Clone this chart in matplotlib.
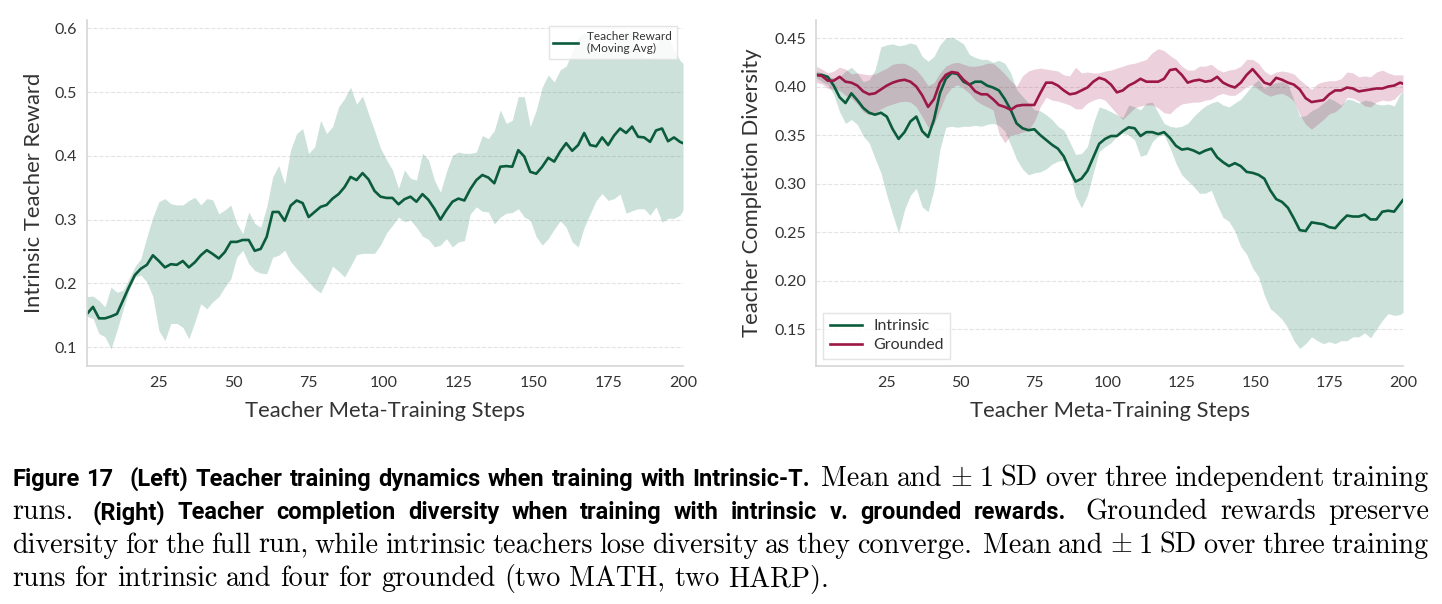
import numpy as np
import matplotlib
matplotlib.use("Agg")
import matplotlib.pyplot as plt

plt.rcParams['mathtext.fontset'] = 'cm'

# meta-training steps (odd steps plus the last one)
steps = np.r_[np.arange(1, 200, 2), 200]

# Left: intrinsic teacher reward (moving avg) and +/- 1 SD band
reward_mean = [0.152, 0.163, 0.145, 0.145, 0.148, 0.152, 0.173, 0.194, 0.213, 0.223,
               0.229, 0.244, 0.235, 0.225, 0.230, 0.229, 0.235, 0.225, 0.233, 0.244,
               0.252, 0.246, 0.239, 0.249, 0.265, 0.265, 0.268, 0.268, 0.251, 0.254,
               0.273, 0.312, 0.312, 0.298,
               0.322, 0.330, 0.326, 0.304, 0.312, 0.320, 0.323, 0.333, 0.340, 0.351,
               0.367, 0.362, 0.373, 0.363, 0.345, 0.336, 0.334, 0.334, 0.324, 0.332,
               0.336, 0.328, 0.340, 0.331, 0.317, 0.300, 0.315, 0.328, 0.333, 0.330,
               0.348, 0.362, 0.370,
               0.366, 0.357, 0.383, 0.384, 0.383, 0.409, 0.399, 0.375, 0.372, 0.383,
               0.397, 0.391, 0.407, 0.420, 0.408, 0.417, 0.436, 0.417, 0.415, 0.429,
               0.417, 0.432, 0.443, 0.436, 0.446, 0.430, 0.429, 0.422, 0.440, 0.443,
               0.423, 0.429, 0.422, 0.420]
reward_lo = [0.148, 0.145, 0.121, 0.116, 0.097, 0.126, 0.158, 0.189, 0.210, 0.213,
             0.202, 0.179, 0.126, 0.110, 0.137, 0.137, 0.131, 0.113, 0.139, 0.168,
             0.160, 0.171, 0.179, 0.194, 0.207, 0.241, 0.252, 0.231, 0.220, 0.216,
             0.215, 0.241, 0.244, 0.252,
             0.234, 0.223, 0.213, 0.202, 0.192, 0.185, 0.205, 0.227, 0.219, 0.210,
             0.227, 0.245, 0.247, 0.247, 0.247, 0.260, 0.279, 0.291, 0.304, 0.297,
             0.299, 0.288, 0.274, 0.269, 0.257, 0.260, 0.270, 0.257, 0.265, 0.267,
             0.309, 0.320, 0.313,
             0.312, 0.293, 0.304, 0.310, 0.311, 0.317, 0.304, 0.299, 0.273, 0.260,
             0.270, 0.285, 0.298, 0.288, 0.265, 0.257, 0.288, 0.309, 0.330, 0.341,
             0.330, 0.333, 0.340, 0.310, 0.314, 0.317, 0.317, 0.307, 0.320, 0.296,
             0.302, 0.302, 0.307, 0.315]
reward_hi = [0.179, 0.180, 0.173, 0.163, 0.194, 0.186, 0.189, 0.207, 0.226, 0.239,
             0.273, 0.304, 0.328, 0.333, 0.325, 0.323, 0.323, 0.330, 0.335, 0.323,
             0.333, 0.331, 0.309, 0.315, 0.323, 0.294, 0.278, 0.312, 0.294, 0.288,
             0.320, 0.367, 0.385, 0.356,
             0.410, 0.435, 0.443, 0.404, 0.414, 0.456, 0.435, 0.446, 0.477, 0.490,
             0.508, 0.481, 0.494, 0.466, 0.440, 0.412, 0.394, 0.378, 0.349, 0.378,
             0.365, 0.362, 0.404, 0.394, 0.362, 0.343, 0.375, 0.401, 0.406, 0.404,
             0.404, 0.406, 0.432,
             0.427, 0.440, 0.472, 0.451, 0.456, 0.493, 0.493, 0.446, 0.472, 0.508,
             0.527, 0.516, 0.535, 0.541, 0.563, 0.587, 0.592, 0.590, 0.566, 0.558,
             0.574, 0.569, 0.587, 0.597, 0.592, 0.574, 0.555, 0.555, 0.576, 0.592,
             0.587, 0.566, 0.550, 0.545]

# Right: completion diversity, intrinsic vs grounded
intr_mean = [0.412, 0.412, 0.410, 0.401, 0.389, 0.383, 0.393, 0.386, 0.378, 0.373,
             0.371, 0.373, 0.369, 0.356, 0.346, 0.353, 0.364, 0.369, 0.354, 0.348,
             0.366, 0.393, 0.408, 0.414, 0.413, 0.405, 0.402, 0.405, 0.405, 0.401,
             0.399, 0.396, 0.387, 0.376,
             0.362, 0.357, 0.355, 0.356, 0.350, 0.345, 0.340, 0.336, 0.328, 0.314,
             0.302, 0.305, 0.313, 0.327, 0.341, 0.346, 0.349, 0.349, 0.354, 0.358,
             0.357, 0.349, 0.353, 0.353, 0.351, 0.353, 0.347, 0.339, 0.335, 0.336,
             0.334, 0.331, 0.334,
             0.336, 0.327, 0.322, 0.318, 0.321, 0.318, 0.312, 0.311, 0.309, 0.305,
             0.293, 0.284, 0.281, 0.275, 0.264, 0.252, 0.251, 0.260, 0.259, 0.258,
             0.255, 0.254, 0.261, 0.267, 0.266, 0.266, 0.268, 0.263, 0.263, 0.271,
             0.272, 0.271, 0.279, 0.283]
intr_lo = [0.409, 0.405, 0.402, 0.392, 0.374, 0.362, 0.366, 0.361, 0.349, 0.342,
           0.326, 0.311, 0.288, 0.268, 0.249, 0.273, 0.288, 0.295, 0.276, 0.271,
           0.294, 0.335, 0.358, 0.359, 0.358, 0.359, 0.359, 0.360, 0.359, 0.361,
           0.362, 0.360, 0.354, 0.340,
           0.325, 0.315, 0.309, 0.311, 0.312, 0.315, 0.320, 0.323, 0.324, 0.313,
           0.287, 0.275, 0.288, 0.311, 0.333, 0.338, 0.342, 0.349, 0.352, 0.350,
           0.345, 0.328, 0.330, 0.343, 0.349, 0.350, 0.337, 0.321, 0.309, 0.303,
           0.297, 0.290, 0.290,
           0.293, 0.278, 0.265, 0.261, 0.251, 0.235, 0.227, 0.213, 0.204, 0.185,
           0.171, 0.166, 0.160, 0.151, 0.138, 0.130, 0.135, 0.142, 0.138, 0.135,
           0.137, 0.135, 0.138, 0.138, 0.142, 0.142, 0.146, 0.141, 0.150, 0.159,
           0.166, 0.164, 0.165, 0.167]
intr_hi = [0.416, 0.414, 0.410, 0.409, 0.410, 0.416, 0.420, 0.414, 0.405, 0.407,
           0.417, 0.441, 0.443, 0.444, 0.442, 0.443, 0.445, 0.443, 0.431, 0.426,
           0.431, 0.443, 0.450, 0.451, 0.448, 0.444, 0.433, 0.430, 0.428, 0.428,
           0.425, 0.427, 0.424, 0.414,
           0.397, 0.390, 0.383, 0.376, 0.375, 0.371, 0.366, 0.359, 0.355, 0.343,
           0.330, 0.331, 0.338, 0.362, 0.379, 0.377, 0.374, 0.371, 0.368, 0.381,
           0.379, 0.376, 0.383, 0.384, 0.373, 0.362, 0.359, 0.358, 0.359, 0.362,
           0.369, 0.375, 0.380,
           0.383, 0.385, 0.381, 0.379, 0.383, 0.387, 0.394, 0.402, 0.407, 0.398,
           0.402, 0.404, 0.405, 0.402, 0.386, 0.369, 0.370, 0.375, 0.378, 0.383,
           0.388, 0.385, 0.381, 0.387, 0.386, 0.383, 0.386, 0.385, 0.382, 0.381,
           0.382, 0.380, 0.392, 0.395]
grnd_mean = [0.412, 0.411, 0.406, 0.406, 0.410, 0.405, 0.404, 0.401, 0.395, 0.392,
             0.393, 0.397, 0.401, 0.404, 0.406, 0.407, 0.405, 0.400, 0.391, 0.379,
             0.387, 0.404, 0.412, 0.415, 0.414, 0.407, 0.402, 0.395, 0.392, 0.392,
             0.387, 0.381, 0.379, 0.376,
             0.380, 0.381, 0.381, 0.381, 0.393, 0.404, 0.404, 0.401, 0.396, 0.392,
             0.393, 0.396, 0.399, 0.405, 0.409, 0.407, 0.402, 0.394, 0.396, 0.401,
             0.404, 0.408, 0.405, 0.405, 0.405, 0.408, 0.417, 0.418, 0.412, 0.404,
             0.406, 0.407, 0.405,
             0.406, 0.410, 0.404, 0.401, 0.399, 0.404, 0.412, 0.418, 0.411, 0.404,
             0.402, 0.409, 0.407, 0.404, 0.402, 0.397, 0.388, 0.384, 0.385, 0.386,
             0.392, 0.396, 0.396, 0.399, 0.398, 0.395, 0.396, 0.397, 0.398, 0.398,
             0.400, 0.401, 0.404, 0.403]
grnd_lo = [0.404, 0.403, 0.398, 0.397, 0.396, 0.391, 0.388, 0.382, 0.374, 0.371,
           0.373, 0.377, 0.380, 0.382, 0.384, 0.385, 0.384, 0.379, 0.369, 0.358,
           0.361, 0.376, 0.391, 0.399, 0.402, 0.398, 0.393, 0.386, 0.382, 0.379,
           0.376, 0.352, 0.342, 0.350,
           0.351, 0.353, 0.355, 0.364, 0.379, 0.389, 0.386, 0.385, 0.383, 0.381,
           0.377, 0.377, 0.383, 0.386, 0.388, 0.386, 0.379, 0.372, 0.366, 0.372,
           0.378, 0.380, 0.381, 0.381, 0.378, 0.373, 0.372, 0.378, 0.382, 0.383,
           0.384, 0.384, 0.386,
           0.387, 0.391, 0.393, 0.391, 0.391, 0.395, 0.400, 0.402, 0.397, 0.393,
           0.390, 0.392, 0.393, 0.390, 0.385, 0.371, 0.361, 0.356, 0.361, 0.366,
           0.372, 0.374, 0.379, 0.389, 0.388, 0.385, 0.380, 0.379, 0.384, 0.386,
           0.385, 0.387, 0.393, 0.395]
grnd_hi = [0.421, 0.418, 0.414, 0.416, 0.420, 0.418, 0.413, 0.414, 0.413, 0.412,
           0.413, 0.416, 0.419, 0.423, 0.424, 0.424, 0.421, 0.417, 0.410, 0.401,
           0.404, 0.414, 0.421, 0.424, 0.425, 0.423, 0.421, 0.421, 0.422, 0.424,
           0.424, 0.419, 0.413, 0.406,
           0.400, 0.411, 0.416, 0.418, 0.419, 0.418, 0.417, 0.416, 0.412, 0.411,
           0.420, 0.414, 0.415, 0.414, 0.414, 0.416, 0.417, 0.419, 0.421, 0.423,
           0.424, 0.426, 0.428, 0.435, 0.439, 0.437, 0.432, 0.428, 0.421, 0.417,
           0.417, 0.421, 0.421,
           0.423, 0.418, 0.415, 0.417, 0.418, 0.421, 0.428, 0.428, 0.424, 0.416,
           0.412, 0.415, 0.416, 0.415, 0.413, 0.407, 0.402, 0.397, 0.403, 0.405,
           0.406, 0.406, 0.408, 0.415, 0.414, 0.410, 0.411, 0.410, 0.415, 0.417,
           0.414, 0.412, 0.412, 0.412]

x_ticks = [25, 50, 75, 100, 125, 150, 175, 200]
left_yticks = [0.1, 0.2, 0.3, 0.4, 0.5, 0.6]
right_yticks = [0.15, 0.20, 0.25, 0.30, 0.35, 0.40, 0.45]

GREEN = '#0b5c3c'
GREEN_FILL = '#1b7a5a'
RED = '#9c1746'
RED_FILL = '#a3174b'
TXT = '#333333'
AX_FONT = 'Lato'

W, H = 1442, 604


def style_axes(ax, ylim, yticks, fmt, ylabel, labelpad):
    ax.set_xlim(1, 200)
    ax.set_ylim(*ylim)
    ax.set_xticks(x_ticks)
    ax.set_yticks(yticks)
    ax.set_yticklabels([fmt.format(v) for v in yticks])
    for lab in ax.get_xticklabels() + ax.get_yticklabels():
        lab.set_fontfamily(AX_FONT)
        lab.set_fontsize(11.5)
        lab.set_color(TXT)
    ax.tick_params(length=0, pad=7)
    ax.yaxis.grid(True, linestyle='--', color='#e4e4e4', linewidth=0.8)
    ax.xaxis.grid(False)
    ax.set_axisbelow(True)
    for side in ['top', 'right']:
        ax.spines[side].set_visible(False)
    for side in ['left', 'bottom']:
        ax.spines[side].set_color('#d6d6d6')
        ax.spines[side].set_linewidth(1.2)
    ax.set_xlabel('Teacher Meta-Training Steps', fontfamily=AX_FONT,
                  fontsize=15.8, color=TXT, labelpad=8)
    ax.set_ylabel(ylabel, fontfamily=AX_FONT, fontsize=15.8, color=TXT,
                  labelpad=labelpad)


def words(style, text):
    return [(style, w) for w in text.split()]


PM = [('m', r'$\pm$')]
cap_lines = [
    words('b', 'Figure 17') + words('b', '(Left) Teacher training dynamics when training with Intrinsic-T.')
    + words('s', 'Mean and') + PM + words('s', '1 SD over three independent training'),
    words('s', 'runs.') + words('b', '(Right) Teacher completion diversity when training with intrinsic v. grounded rewards.')
    + words('s', 'Grounded rewards preserve'),
    words('s', 'diversity for the full run, while intrinsic teachers lose diversity as they converge. Mean and')
    + PM + words('s', '1 SD over three training'),
    words('s', 'runs for intrinsic and four for grounded (two MATH, two HARP).'),
]
CAP_FONTS = {
    'b': dict(family=['Roboto', 'DejaVu Sans'], weight='bold', size=17),
    's': dict(family='cmr10', size=20.3),
    'm': dict(size=20.3),
}


def gap_weight(word):
    if word == '17':
        return 2.2
    if word.endswith('.') and word != 'v.':
        return 1.6
    return 1.0


def draw_caption(fig):
    renderer = fig.canvas.get_renderer()
    x0, x1 = 12, 1429
    for i, line in enumerate(cap_lines):
        base = 1 - (486 + 33.3 * i) / H
        arts = [fig.text(0, base, w, va='baseline', color='black', **CAP_FONTS[s])
                for s, w in line]
        widths = [a.get_window_extent(renderer).width for a in arts]
        weights = [gap_weight(w) for _, w in line[:-1]] + [0]
        if i < len(cap_lines) - 1:
            unit = (x1 - x0 - sum(widths)) / sum(weights)
        else:
            unit = 8.8
        x = x0
        for a, wd, g in zip(arts, widths, weights):
            a.set_x(x / W)
            x += wd + g * unit


fig = plt.figure(figsize=(W / 100, H / 100), dpi=100)
ax1 = fig.add_axes([87 / W, 1 - 366 / H, (683 - 87) / W, 346 / H])
ax2 = fig.add_axes([816 / W, 1 - 366 / H, (1403 - 816) / W, 346 / H])

# left panel
ax1.fill_between(steps, reward_lo, reward_hi, color=GREEN_FILL, alpha=0.22, linewidth=0)
ax1.plot(steps, reward_mean, color=GREEN, linewidth=1.9, label='Teacher Reward\n(Moving Avg)')
style_axes(ax1, (0.0702, 0.6133), left_yticks, '{:.1f}', 'Intrinsic Teacher Reward', 8)
leg1 = ax1.legend(loc='upper right', prop=dict(family=AX_FONT, size=8.5),
                  handlelength=2.1, handletextpad=0.8, borderaxespad=0.5,
                  framealpha=0.85, edgecolor='#e0e0e0', fancybox=False)
for t in leg1.get_texts():
    t.set_color(TXT)

# right panel
ax2.fill_between(steps, intr_lo, intr_hi, color=GREEN_FILL, alpha=0.22, linewidth=0)
ax2.fill_between(steps, grnd_lo, grnd_hi, color=RED_FILL, alpha=0.2, linewidth=0)
ax2.plot(steps, intr_mean, color=GREEN, linewidth=1.9, label='Intrinsic')
ax2.plot(steps, grnd_mean, color=RED, linewidth=1.9, label='Grounded')
style_axes(ax2, (0.1119, 0.4686), right_yticks, '{:.2f}', 'Teacher Completion Diversity', 9)
leg2 = ax2.legend(loc='lower left', prop=dict(family=AX_FONT, size=11.5),
                  handlelength=2.0, handletextpad=0.75, labelspacing=0.3,
                  borderaxespad=0.45, framealpha=0.85, edgecolor='#e0e0e0',
                  fancybox=False)
for t in leg2.get_texts():
    t.set_color(TXT)

draw_caption(fig)

fig.savefig('out.png', dpi=100, facecolor='white')
